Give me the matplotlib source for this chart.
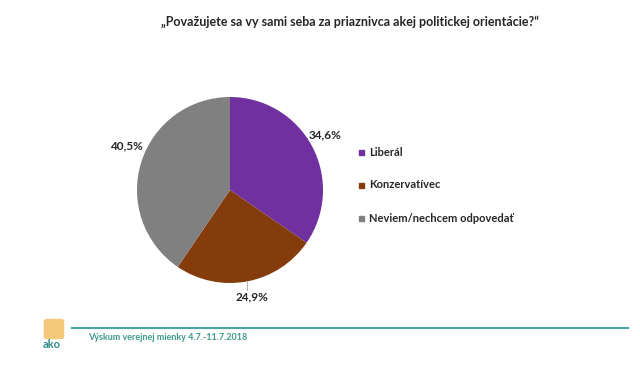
import matplotlib.pyplot as plt
from matplotlib.patches import FancyBboxPatch, Rectangle

plt.rcParams['font.family'] = ['Lato', 'DejaVu Sans']

labels = ["Liberál", "Konzervatívec", "Neviem/nechcem odpovedať"]
values = [34.6, 24.9, 40.5]
value_labels = ["34,6%", "24,9%", "40,5%"]
colors = ["#7030A0", "#843C0C", "#808080"]

title = "„Považujete sa vy sami seba za priaznivca akej politickej orientácie?“"
footer = "Výskum verejnej mienky 4.7.-11.7.2018"

fig = plt.figure(figsize=(6.4, 3.72), dpi=100)

# pie axes: center ~ (230, 190) px, radius ~ 92 px
W, H = 640, 372
r = 93
cx, cy = 230, 190
ax = fig.add_axes([(cx - r) / W, 1 - (cy + r) / H, 2 * r / W, 2 * r / H])
wedges, _ = ax.pie(values, colors=colors, startangle=90, counterclock=False,
                   radius=1.0)
ax.set_xlim(-1, 1)
ax.set_ylim(-1, 1)
ax.set_aspect("auto")
ax.axis("off")

# value labels (positions in figure pixels)
lab_pos = [(325, 135), (252, 297), (126, 146)]
for txt, (x, y) in zip(value_labels, lab_pos):
    fig.text(x / W, 1 - y / H, txt, fontsize=8.5, fontweight="bold",
             color="#262626", ha="center", va="center")
# small leader line for 24,9%
fig.add_artist(plt.Line2D([247 / W, 247 / W], [1 - 282 / H, 1 - 290 / H],
                          color="#a6a6a6", lw=0.6))

fig.text(350 / W, 1 - 22 / H, title, fontsize=9, fontweight="bold",
         color="#262626", ha="center", va="center")

# legend
leg_y = [152, 185, 218]
for lab, col, y in zip(labels, colors, leg_y):
    fig.add_artist(Rectangle((359 / W, 1 - (y + 2.5) / H), 5 / W, 5 / H,
                             color=col, transform=fig.transFigure))
    fig.text(369 / W, 1 - y / H, lab, fontsize=8, fontweight="bold",
             color="#262626", ha="left", va="center")

# footer
fig.add_artist(plt.Line2D([72 / W, 628 / W], [1 - 328 / H, 1 - 328 / H],
                          color="#4aa3a3", lw=1.5))
fig.text(88 / W, 1 - 338 / H, footer, fontsize=6.5, fontweight="bold",
         color="#3c9a8a", ha="left", va="center")

# rough logo
fig.add_artist(FancyBboxPatch((47 / W, 1 - 337 / H), 14 / W, 16 / H,
                              boxstyle="round,pad=0.004", color="#f5c87a",
                              transform=fig.transFigure))
fig.text(52 / W, 1 - 345 / H, "ako", fontsize=8, color="#2f8a8a",
         ha="center", va="center", fontweight="bold")

fig.savefig("out.png", dpi=100)
